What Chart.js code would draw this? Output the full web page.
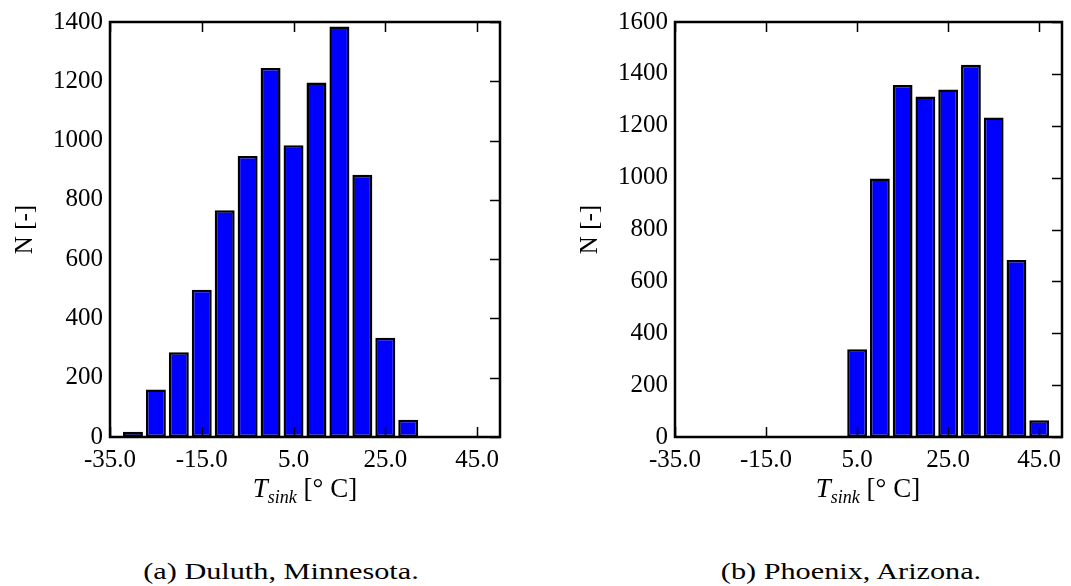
<!DOCTYPE html>
<html>
<head>
<meta charset="utf-8">
<script src="https://cdn.jsdelivr.net/npm/chart.js@4.4.0/dist/chart.umd.min.js"></script>
<style>
html,body{margin:0;padding:0;background:#fff;}
#wrap{position:relative;width:1071px;height:586px;overflow:hidden;font-family:'Liberation Serif',serif;color:#000;}
canvas{position:absolute;top:0;}
.xt{position:absolute;top:475px;font-size:27px;line-height:27px;white-space:nowrap;transform:translateX(-50%);}
.xt sub{font-size:18px;vertical-align:-6px;line-height:0;}
.cap{position:absolute;top:558px;font-size:24px;line-height:26px;white-space:nowrap;transform:translateX(-50%) scaleX(1.26);}
</style>
</head>
<body>
<div id="wrap">
  <canvas id="c1" width="540" height="520" style="left:0px"></canvas>
  <canvas id="c2" width="506" height="520" style="left:565px"></canvas>
  <div class="xt" style="left:305px"><i>T</i><sub><i>sink</i></sub> [° C]</div>
  <div class="xt" style="left:868px"><i>T</i><sub><i>sink</i></sub> [° C]</div>
  <div class="cap" style="left:281px">(a) Duluth, Minnesota.</div>
  <div class="cap" style="left:851px">(b) Phoenix, Arizona.</div>
</div>
<script>
// Bin centres (°C)
const binCenters = [-30, -25, -20, -15, -10, -5, 0, 5, 10, 15, 20, 25, 30, 35, 40, 45];
// Counts per bin
const duluthCounts  = [18, 160, 286, 497, 765, 948, 1245, 984, 1196, 1385, 885, 335, 58, 2, 1, 0];
const phoenixCounts = [0, 0, 0, 0, 0, 0, 2, 338, 997, 1357, 1313, 1340, 1435, 1232, 682, 65];
// Tick labels
const xTickValues = [-35, -15, 5, 25, 45];
const duluthYTicks  = [0, 200, 400, 600, 800, 1000, 1200, 1400];
const phoenixYTicks = [0, 200, 400, 600, 800, 1000, 1200, 1400, 1600];
const yTitle = 'N [-]';

Chart.defaults.font.family = 'Liberation Serif';
const FONT = {family: 'Liberation Serif', size: 25};

const framePlugin = {
  id: 'frameTicks',
  afterDatasetsDraw(chart) {
    const ctx = chart.ctx, a = chart.chartArea;
    const xs = chart.scales.x, ys = chart.scales.y;
    ctx.save();
    ctx.strokeStyle = '#000';
    ctx.lineWidth = 1.5;
    ctx.beginPath();
    xs.ticks.forEach(t => {
      const px = Math.round(xs.getPixelForValue(t.value)) + 0.5;
      ctx.moveTo(px, a.bottom); ctx.lineTo(px, a.bottom - 10);
      ctx.moveTo(px, a.top); ctx.lineTo(px, a.top + 10);
    });
    ys.ticks.forEach(t => {
      const py = Math.round(ys.getPixelForValue(t.value)) + 0.5;
      ctx.moveTo(a.right, py); ctx.lineTo(a.right - 10, py);
    });
    ctx.stroke();
    ctx.lineWidth = 2.5;
    ctx.strokeRect(a.left, a.top, a.right - a.left, a.bottom - a.top);
    ctx.restore();
  }
};

function makeChart(id, counts, yTicks, rightPad) {
  new Chart(document.getElementById(id), {
    type: 'bar',
    data: {
      datasets: [{
        data: binCenters.map((x, i) => ({x: x, y: counts[i]})),
        backgroundColor: '#0000ff',
        borderColor: '#000000',
        borderWidth: 2.5,
        borderSkipped: false,
        barPercentage: 0.87,
        categoryPercentage: 1.0
      }]
    },
    options: {
      responsive: false,
      animation: false,
      devicePixelRatio: 1,
      layout: {padding: {left: 0, right: rightPad, top: 22, bottom: 0}},
      plugins: {legend: {display: false}, tooltip: {enabled: false}},
      scales: {
        x: {
          type: 'linear', min: -35, max: 50, offset: false,
          grid: {display: false, drawTicks: false},
          border: {display: false},
          afterBuildTicks: s => { s.ticks = xTickValues.map(v => ({value: v})); },
          afterFit: s => { s.height = 83; },
          ticks: {font: FONT, color: '#000', padding: 8, maxRotation: 0, autoSkip: false,
                  callback: v => Number(v).toFixed(1)}
        },
        y: {
          min: 0, max: yTicks[yTicks.length - 1],
          grid: {display: false, drawTicks: false},
          border: {display: false},
          afterBuildTicks: s => { s.ticks = yTicks.map(v => ({value: v})); },
          afterFit: s => { s.width = 110; },
          title: {display: true, text: yTitle, font: FONT, color: '#000', padding: {top: 10, bottom: 0}},
          ticks: {font: FONT, color: '#000', padding: 7, callback: v => String(v)}
        }
      }
    },
    plugins: [framePlugin]
  });
}

makeChart('c1', duluthCounts, duluthYTicks, 40);
makeChart('c2', phoenixCounts, phoenixYTicks, 9);
</script>
</body>
</html>
